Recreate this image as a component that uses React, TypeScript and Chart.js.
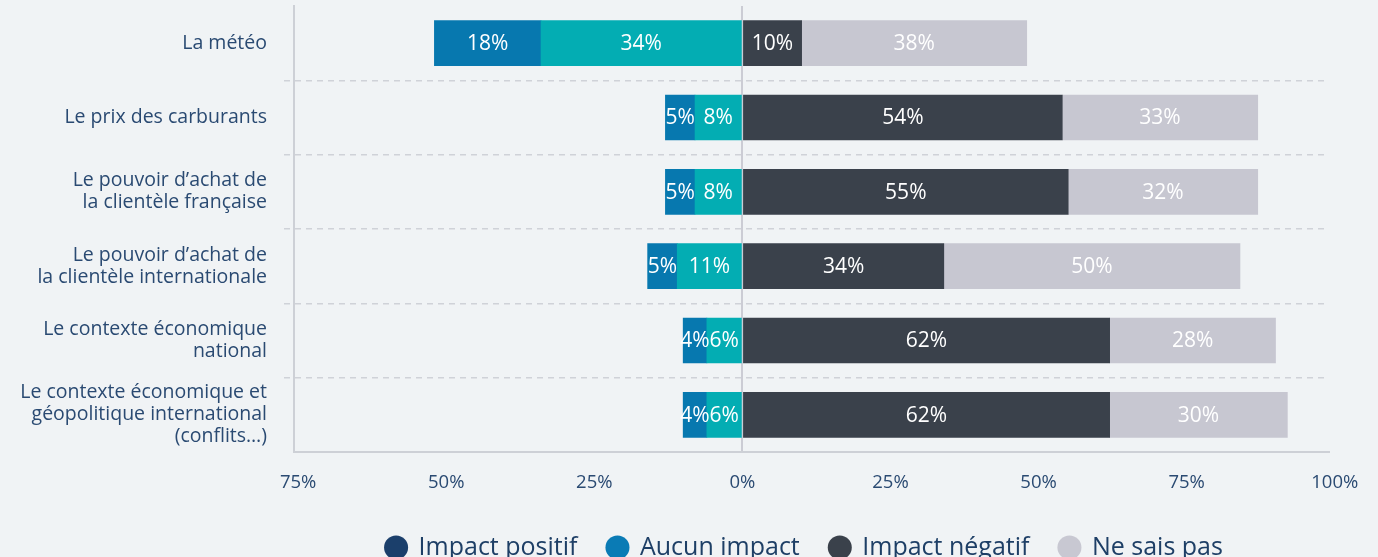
import React, { useEffect, useRef } from "react";
import { Chart, registerables } from "chart.js";

Chart.register(...registerables);

const categories: (string | string[])[] = [
  "La météo",
  "Le prix des carburants",
  ["Le pouvoir d’achat de", "la clientèle française"],
  ["Le pouvoir d’achat de", "la clientèle internationale"],
  ["Le contexte économique", "national"],
  ["Le contexte économique et", "géopolitique international", "(conflits…)"],
];

const impactPositif = [18, 5, 5, 5, 4, 4];
const aucunImpact = [34, 8, 8, 11, 6, 6];
const impactNegatif = [10, 54, 55, 34, 62, 62];
const neSaisPas = [38, 33, 32, 50, 28, 30];

const xTicks = [-75, -50, -25, 0, 25, 50, 75, 100];

const FONT = "'Open Sans', 'Noto Sans', sans-serif";
const TEXT = "#2a4a72";

const legendItems = [
  { text: "Impact positif", color: "#1b3f6b", ds: 1 },
  { text: "Aucun impact", color: "#0a7bb5", ds: 0 },
  { text: "Impact négatif", color: "#3a414b", ds: 2 },
  { text: "Ne sais pas", color: "#c8c8d2", ds: 3 },
];

const LEGEND_H = 52;
const XAXIS_H = 53;
const LEGEND_DX = 139;

const barLabels = {
  id: "barLabels",
  afterDatasetsDraw(chart: any) {
    const ctx = chart.ctx;
    ctx.save();
    ctx.font = `21px ${FONT}`;
    ctx.fillStyle = "#ffffff";
    ctx.textAlign = "center";
    ctx.textBaseline = "middle";
    chart.data.datasets.forEach((ds: any, di: number) => {
      const meta = chart.getDatasetMeta(di);
      if (meta.hidden) return;
      meta.data.forEach((el: any, i: number) => {
        const v = ds.data[i];
        const cx = (el.x + el.base) / 2;
        ctx.fillText(Math.abs(v) + "%", cx, el.y + 1);
      });
    });
    ctx.restore();
  },
};

const legendSizer = {
  id: "legendSizer",
  beforeLayout(chart: any) {
    const l = chart.legend;
    if (l && !l.__sized) {
      l.__sized = true;
      const origFit = l.fit;
      l.fit = function () {
        origFit.call(this);
        this.height = LEGEND_H;
      };
    }
  },
  afterLayout(chart: any) {
    const l = chart.legend;
    if (l) {
      l.left += LEGEND_DX;
      l.right += LEGEND_DX;
    }
  },
};

export default function App() {
  const ref = useRef<HTMLCanvasElement>(null);

  useEffect(() => {
    if (!ref.current) return;
    const chart = new Chart(ref.current, {
      type: "bar",
      data: {
        labels: categories,
        datasets: [
          { label: "Aucun impact", data: aucunImpact.map((v) => -v), backgroundColor: "#03adb3" },
          { label: "Impact positif", data: impactPositif.map((v) => -v), backgroundColor: "#0778af" },
          { label: "Impact négatif", data: impactNegatif, backgroundColor: "#3a414b" },
          { label: "Ne sais pas", data: neSaisPas, backgroundColor: "#c7c7d1" },
        ],
      },
      plugins: [legendSizer, barLabels],
      options: {
        indexAxis: "y",
        animation: false,
        responsive: true,
        maintainAspectRatio: false,
        layout: { padding: { top: 6, right: 47, left: 0, bottom: 0 } },
        datasets: {
          bar: { barThickness: 45, borderWidth: 0 },
        },
        scales: {
          x: {
            type: "linear",
            stacked: true,
            min: -75.7,
            max: 99,
            afterBuildTicks: (s: any) => {
              s.ticks = xTicks.map((v) => ({ value: v }));
            },
            afterFit: (s: any) => {
              s.height = XAXIS_H;
            },
            ticks: {
              padding: 20,
              color: TEXT,
              font: { family: FONT, size: 18.5 },
              callback: (v: any) => Math.abs(Number(v)) + "%",
            },
            grid: {
              drawTicks: false,
              lineWidth: 2,
              color: (c: any) => (c.tick && c.tick.value === 0 ? "#cbccd4" : "transparent"),
            },
            border: { display: true, color: "#cdd0d6", width: 2 },
          },
          y: {
            stacked: true,
            afterFit: (s: any) => {
              s.width = 294;
              s.paddingTop = 0;
              s.paddingBottom = 0;
            },
            ticks: {
              autoSkip: false,
              padding: 17,
              color: TEXT,
              font: { family: FONT, size: 19.5, lineHeight: 1.13 },
            },
            grid: {
              offset: true,
              drawTicks: true,
              tickLength: 10,
              lineWidth: 1.5,
              color: (c: any) =>
                c.index === 0 || c.index === undefined ? "transparent" : "#cfd2d8",
              tickBorderDash: [6, 5],
            },
            border: { display: true, color: "#cdd0d6", width: 2, dash: [6, 5] },
          },
        },
        plugins: {
          tooltip: { enabled: false },
          legend: {
            position: "bottom",
            labels: {
              usePointStyle: true,
              pointStyle: "circle",
              boxHeight: 17,
              boxWidth: 20,
              padding: 30,
              color: "#1e3f66",
              font: { family: FONT, size: 25 },
              generateLabels: () =>
                legendItems.map((it) => ({
                  text: it.text,
                  fillStyle: it.color,
                  strokeStyle: it.color,
                  fontColor: "#1e3f66",
                  lineWidth: 0,
                  pointStyle: "circle",
                  hidden: false,
                  datasetIndex: it.ds,
                })),
            },
          },
        },
      },
    });
    return () => chart.destroy();
  }, []);

  return (
    <div
      style={{
        position: "fixed",
        left: 0,
        top: 0,
        width: 1378,
        height: 557,
        background: "#f0f3f5",
      }}
    >
      <canvas ref={ref} />
    </div>
  );
}
